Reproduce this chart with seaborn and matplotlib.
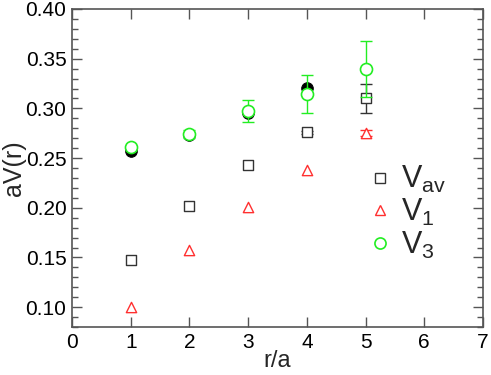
import matplotlib
matplotlib.use("Agg")
import matplotlib.pyplot as plt
import seaborn as sns
import numpy as np
import pandas as pd
from matplotlib.ticker import MultipleLocator
from matplotlib.lines import Line2D

# data
r = [1, 2, 3, 4, 5]
r_full = [1, 2, 3, 4]
v_full = [0.257, 0.273, 0.2955, 0.321]
v_av = [0.147, 0.202, 0.2435, 0.276, 0.310]
v_av_err = [0.0, 0.0, 0.0, 0.0015, 0.0145]
v_1 = [0.100, 0.157, 0.201, 0.238, 0.275]
v_1_err = [0.0, 0.0, 0.0, 0.0, 0.003]
v_3 = [0.261, 0.2745, 0.2975, 0.3145, 0.3395]
v_3_err = [0.0, 0.004, 0.011, 0.0195, 0.0278]
xticks = [0, 1, 2, 3, 4, 5, 6, 7]
yticks = [0.10, 0.15, 0.20, 0.25, 0.30, 0.35, 0.40]

sns.set_style("ticks")
plt.rcParams['font.family'] = ['Liberation Sans', 'DejaVu Sans']
plt.rcParams['mathtext.fontset'] = 'custom'
plt.rcParams['mathtext.rm'] = 'Liberation Sans'
plt.rcParams['mathtext.it'] = 'Liberation Sans'

fig = plt.figure(figsize=(4.91, 3.75), dpi=100)
ax = fig.add_axes([0.1466, 0.128, 0.837, 0.848])

frame = '#555555'
red = '#ff3030'
green = '#22ee22'


def errs(x, y, e, color, z):
    xs = [a for a, b in zip(x, e) if b > 0]
    ys = [a for a, b in zip(y, e) if b > 0]
    es = [b for b in e if b > 0]
    ax.errorbar(xs, ys, yerr=es, fmt='none', ecolor=color, elinewidth=1.0,
                capsize=4, capthick=1.0, zorder=z)


# black filled circles
sns.scatterplot(x=r_full, y=v_full, ax=ax, marker='o', s=70, color='black',
                edgecolor='black', zorder=2, legend=False)

# V_av squares
errs(r, v_av, v_av_err, '#333333', 3)
sns.scatterplot(x=r, y=v_av, ax=ax, marker='s', s=50, facecolor='white',
                edgecolor='#333333', linewidth=1.0, zorder=4, legend=False)

# V_1 triangles
errs(r, v_1, v_1_err, red, 3)
sns.scatterplot(x=r, y=v_1, ax=ax, marker='^', s=55, facecolor='white',
                edgecolor=red, linewidth=1.0, zorder=4, legend=False)

# V_3 circles
errs(r, v_3, v_3_err, green, 5)
sns.scatterplot(x=r, y=v_3, ax=ax, marker='o', s=75, facecolor='white',
                edgecolor=green, linewidth=1.2, zorder=6, legend=False)

ax.set_xlim(0, 7)
ax.set_ylim(0.08, 0.40)
ax.set_xticks(xticks)
ax.set_yticks(yticks)
ax.set_yticklabels([f"{t:.2f}" for t in yticks])
ax.yaxis.set_minor_locator(MultipleLocator(0.01))
ax.tick_params(axis='both', which='both', direction='in', top=True, right=True,
               color=frame, labelsize=15, labelcolor='black')
ax.tick_params(which='major', length=7, width=1.0)
ax.tick_params(which='minor', length=4, width=1.0)
ax.tick_params(axis='x', pad=4)
ax.tick_params(axis='y', pad=4)
for s in ax.spines.values():
    s.set_color(frame)
    s.set_linewidth(1.2)

ax.set_xlabel('r/a', fontsize=17, labelpad=-1)
ax.set_ylabel('aV(r)', fontsize=18, labelpad=0)

# legend
handles = [
    Line2D([], [], marker='s', ls='none', ms=7, mfc='white', mec='#333333', mew=1.0),
    Line2D([], [], marker='^', ls='none', ms=7.5, mfc='white', mec=red, mew=1.0),
    Line2D([], [], marker='o', ls='none', ms=8, mfc='white', mec=green, mew=1.2),
]
labels = [r'$\mathregular{V_{av}}$', r'$\mathregular{V_{1}}$', r'$\mathregular{V_{3}}$']
ax.legend(handles, labels, loc='upper left', bbox_to_anchor=(0.69, 0.56),
          frameon=False, fontsize=22, handlelength=0.6, handletextpad=0.4,
          labelspacing=0.05, borderpad=0)

fig.savefig('out.png', dpi=100)
